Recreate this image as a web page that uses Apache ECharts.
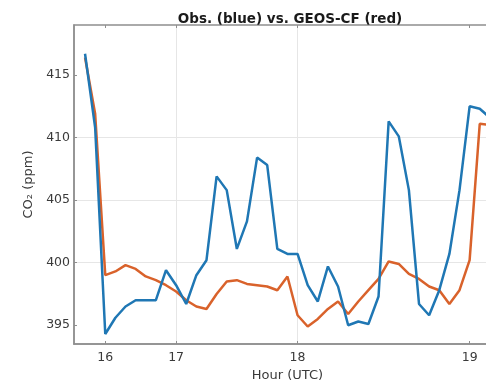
<!DOCTYPE html>
<html>
<head>
<meta charset="utf-8">
<script src="https://cdn.jsdelivr.net/npm/echarts@6/dist/echarts.min.js"></script>
<style>html,body{margin:0;padding:0;background:#fff;overflow:hidden}#c{width:486px;height:386px}</style>
</head>
<body>
<div id="c"></div>
<script>
// Samples are equally spaced in index; hour labels sit at these sample positions
const hourTickSamples = [2, 9, 21, 38];
const hourTickLabels = ['16', '17', '18', '19'];
const yTicks = [395, 400, 405, 410, 415];

const obs = [416.7, 410.8, 394.3, 395.6, 396.5, 397.0, 397.0, 397.0, 399.4, 398.2,
  396.7, 399.0, 400.2, 406.9, 405.8, 401.1, 403.3, 408.4, 407.8, 401.1,
  400.7, 400.7, 398.2, 396.9, 399.7, 398.1, 395.0, 395.3, 395.1, 397.3,
  411.3, 410.1, 405.8, 396.7, 395.8, 397.8, 400.7, 405.8, 412.5, 412.3, 411.6];
const geos = [416.4, 411.9, 399.0, 399.3, 399.8, 399.5, 398.9, 398.6, 398.2, 397.7,
  397.0, 396.5, 396.3, 397.5, 398.5, 398.6, 398.3, 398.2, 398.1, 397.8,
  398.9, 395.8, 394.9, 395.5, 396.3, 396.9, 395.9, 396.9, 397.8, 398.7,
  400.1, 399.9, 399.1, 398.7, 398.1, 397.8, 396.7, 397.8, 400.2, 411.1, 411.0];

const chart = echarts.init(document.getElementById('c'), null, {renderer: 'canvas'});
const axisCol = '#8f8f8f';
const font = 'DejaVu Sans';
const labelCol = '#3a3a3a';
chart.setOption({
  animation: false,
  backgroundColor: '#fff',
  title: {
    text: 'Obs. (blue) vs. GEOS-CF (red)',
    left: 285, top: 7, textAlign: 'center',
    textStyle: {fontFamily: font, fontSize: 13.5, fontWeight: 'bold', color: '#1a1a1a'}
  },
  grid: {left: 74, top: 25, width: 427, height: 319, containLabel: false, outerBoundsMode: 'none',
    show: true, borderColor: axisCol, borderWidth: 1.5, backgroundColor: 'transparent'},
  xAxis: [{
    type: 'value', min: -1.09, max: 41.1,
    name: 'Hour (UTC)', nameLocation: 'middle', nameGap: 24,
    nameTextStyle: {fontFamily: font, fontSize: 13, color: labelCol},
    axisLine: {show: true, onZero: false, lineStyle: {color: axisCol, width: 1.5}},
    axisTick: {show: true, inside: true, length: 3, customValues: hourTickSamples, lineStyle: {color: axisCol}},
    axisLabel: {customValues: hourTickSamples, margin: 7, fontFamily: font, fontSize: 12.5, color: labelCol,
      formatter: v => hourTickLabels[hourTickSamples.indexOf(Math.round(v))] || ''},
    splitLine: {show: true, showMinLine: false, showMaxLine: false, lineStyle: {color: '#e6e6e6', width: 1}}
  }, {
    type: 'value', min: -1.09, max: 41.1, position: 'top',
    axisLine: {show: false},
    axisTick: {show: true, inside: true, length: 3, customValues: hourTickSamples, lineStyle: {color: axisCol}},
    axisLabel: {show: false}, splitLine: {show: false}
  }],
  yAxis: [{
    type: 'value', min: 393.5, max: 419,
    name: 'CO₂ (ppm)', nameLocation: 'middle', nameGap: 38,
    nameTextStyle: {fontFamily: font, fontSize: 13, color: labelCol},
    axisLine: {show: true, onZero: false, lineStyle: {color: axisCol, width: 1.5}},
    axisTick: {show: true, inside: true, length: 3, customValues: yTicks, lineStyle: {color: axisCol}},
    axisLabel: {customValues: yTicks, margin: 4, fontFamily: font, fontSize: 12.5, color: labelCol},
    splitLine: {show: true, showMinLine: false, showMaxLine: false, lineStyle: {color: '#e6e6e6', width: 1}}
  }],
  series: [{
    type: 'line', name: 'Obs.', data: obs.map((v, i) => [i, v]),
    showSymbol: false, lineStyle: {color: '#1f77b4', width: 2.5}, itemStyle: {color: '#1f77b4'}, z: 3
  }, {
    type: 'line', name: 'GEOS-CF', data: geos.map((v, i) => [i, v]),
    showSymbol: false, lineStyle: {color: '#d9622b', width: 2.5}, itemStyle: {color: '#d9622b'}, z: 2
  }]
});
</script>
</body>
</html>
